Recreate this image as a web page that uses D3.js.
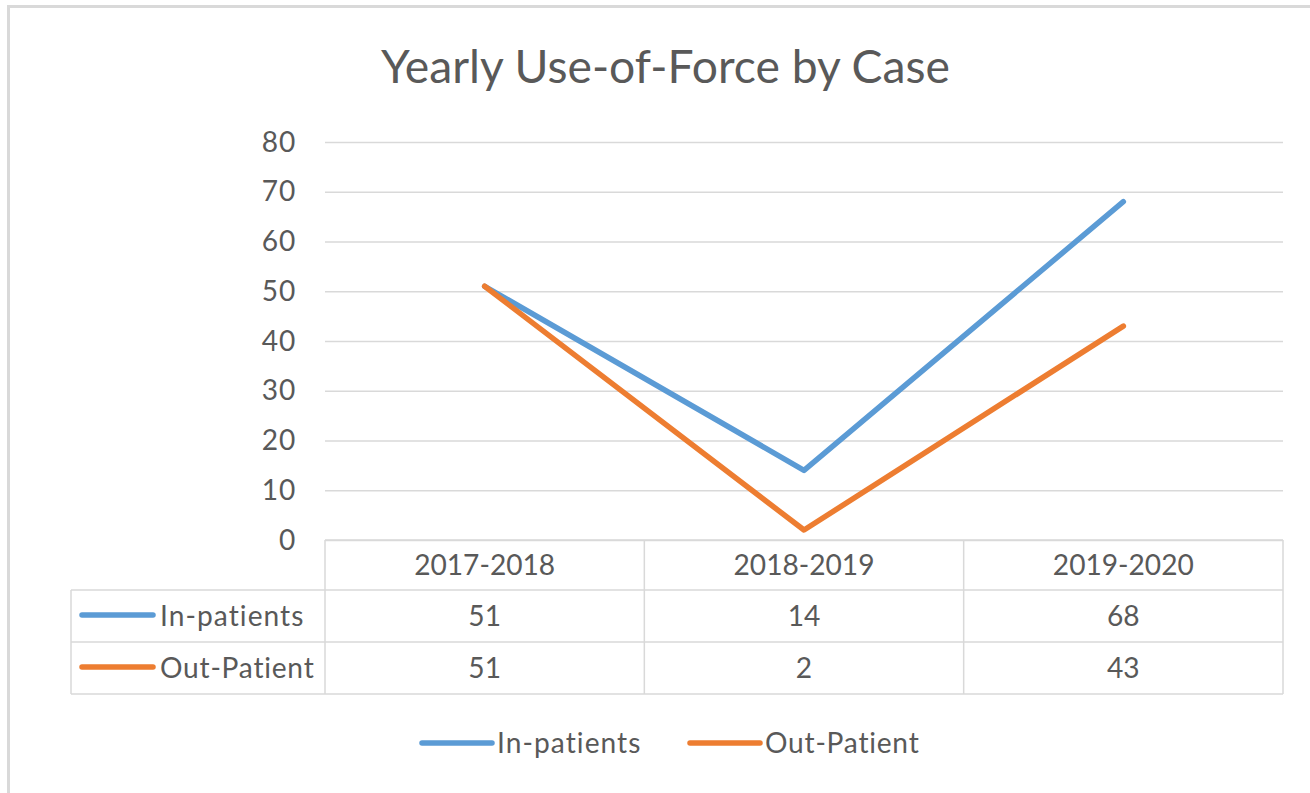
<!DOCTYPE html>
<html>
<head>
<meta charset="utf-8">
<script src="https://cdn.jsdelivr.net/npm/d3@7"></script>
<style>
  html, body { margin: 0; padding: 0; background: #fff; }
  svg { display: block; }
  text { font-family: Lato, "Open Sans", sans-serif; fill: #595959; }
</style>
</head>
<body>
<svg id="chart" width="1310" height="793"></svg>
<script>
const title = "Yearly Use-of-Force by Case";
const categories = ["2017-2018", "2018-2019", "2019-2020"];
const seriesNames = ["In-patients", "Out-Patient"];
const inPatients = [51, 14, 68];
const outPatient = [51, 2, 43];
const yTicks = [0, 10, 20, 30, 40, 50, 60, 70, 80];
const colors = ["#5b9bd5", "#ed7d31"];

const series = [
  { name: seriesNames[0], values: inPatients, color: colors[0] },
  { name: seriesNames[1], values: outPatient, color: colors[1] }
];

const svg = d3.select("#chart");

// outer frame (chart area border, cropped at right/bottom)
svg.append("rect")
  .attr("x", 8.5).attr("y", 6.5)
  .attr("width", 1400).attr("height", 900)
  .attr("fill", "#fff").attr("stroke", "#d9d9d9").attr("stroke-width", 3);

const plotLeft = 325, plotRight = 1283, plotTop = 142, plotBottom = 540;
const x = d3.scaleBand().domain(categories).range([plotLeft, plotRight]);
const y = d3.scaleLinear().domain([0, 80]).range([plotBottom, plotTop]);

function measure(str, size) {
  const t = svg.append("text").style("font-size", size + "px").text(str);
  const w = t.node().getComputedTextLength();
  t.remove();
  return w;
}
function fitSize(str, target, base) {
  return base * target / measure(str, base);
}
const bodySize = fitSize("2017-2018", 141, 24);
const titleSize = fitSize(title, 569, 36);
// letter spacing so that series names match their widths
const nameTargets = [145, 155];
const nameSpacing = seriesNames.map((n, i) => (nameTargets[i] - measure(n, bodySize)) / n.length);

// title
svg.append("text")
  .attr("x", (381 + 950) / 2).attr("y", 83)
  .attr("text-anchor", "middle")
  .style("font-size", titleSize + "px")
  .text(title);

// gridlines
const yAxis = d3.axisLeft(y).tickValues(yTicks).tickSize(-(plotRight - plotLeft)).tickPadding(29);
const gy = svg.append("g").attr("transform", `translate(${plotLeft},0)`).call(yAxis);
gy.select(".domain").remove();
gy.selectAll(".tick line").attr("stroke", "#d9d9d9").attr("stroke-width", 1.5);
gy.selectAll(".tick text")
  .style("font-size", bodySize + "px")
  .style("font-family", "Lato, 'Open Sans', sans-serif")
  .style("letter-spacing", "0.8px")
  .attr("fill", "#595959");

// data table
const tableLeft = 71;
const rowTops = [540, 590, 642, 694];
const g = svg.append("g").attr("stroke", "#d9d9d9").attr("stroke-width", 1.5).attr("fill", "none");
g.append("line").attr("x1", plotLeft).attr("x2", plotRight).attr("y1", rowTops[0]).attr("y2", rowTops[0]);
[1, 2, 3].forEach(i => {
  g.append("line").attr("x1", tableLeft).attr("x2", plotRight).attr("y1", rowTops[i]).attr("y2", rowTops[i]);
});
g.append("line").attr("x1", tableLeft).attr("x2", tableLeft).attr("y1", rowTops[1]).attr("y2", rowTops[3]);
const colEdges = [plotLeft].concat(categories.map(c => x(c) + x.bandwidth()));
colEdges.forEach(cx => {
  g.append("line").attr("x1", cx).attr("x2", cx).attr("y1", rowTops[0]).attr("y2", rowTops[3]);
});

// header labels
svg.append("g").selectAll("text").data(categories).join("text")
  .attr("x", d => x(d) + x.bandwidth() / 2)
  .attr("y", (rowTops[0] + rowTops[1]) / 2)
  .attr("dy", "0.35em")
  .attr("text-anchor", "middle")
  .style("font-size", bodySize + "px")
  .text(d => d);

// rows
series.forEach((s, i) => {
  const cy = (rowTops[i + 1] + rowTops[i + 2]) / 2;
  svg.append("line")
    .attr("x1", 82).attr("x2", 153).attr("y1", cy - 1).attr("y2", cy - 1)
    .attr("stroke", s.color).attr("stroke-width", 5.5).attr("stroke-linecap", "round");
  svg.append("text")
    .attr("x", 160).attr("y", cy).attr("dy", "0.35em")
    .style("font-size", bodySize + "px")
    .style("letter-spacing", nameSpacing[i] + "px")
    .text(s.name);
  svg.append("g").selectAll("text").data(s.values).join("text")
    .attr("x", (d, j) => x(categories[j]) + x.bandwidth() / 2)
    .attr("y", cy).attr("dy", "0.35em")
    .attr("text-anchor", "middle")
    .style("font-size", bodySize + "px")
    .text(d => d);
});

// lines
const line = d3.line()
  .x((d, j) => x(categories[j]) + x.bandwidth() / 2)
  .y(d => y(d));
series.forEach(s => {
  svg.append("path")
    .datum(s.values)
    .attr("d", line)
    .attr("fill", "none")
    .attr("stroke", s.color)
    .attr("stroke-width", 5.5)
    .attr("stroke-linecap", "round")
    .attr("stroke-linejoin", "round");
});

// bottom legend
const legendY = 743;
const legendItems = [
  { s: series[0], x0: 422, i: 0 },
  { s: series[1], x0: 690, i: 1 }
];
legendItems.forEach(li => {
  svg.append("line")
    .attr("x1", li.x0).attr("x2", li.x0 + 70).attr("y1", legendY).attr("y2", legendY)
    .attr("stroke", li.s.color).attr("stroke-width", 5.5).attr("stroke-linecap", "round");
  svg.append("text")
    .attr("x", li.x0 + 75).attr("y", legendY).attr("dy", "0.35em")
    .style("font-size", bodySize + "px")
    .style("letter-spacing", nameSpacing[li.i] + "px")
    .text(li.s.name);
});
</script>
</body>
</html>
